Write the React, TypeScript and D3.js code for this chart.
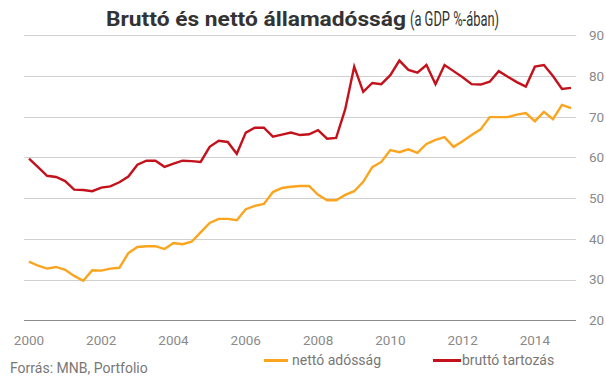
import React from "react";
import * as d3 from "d3";

const years: number[] = d3.range(2000, 2016);
const quarters: string[] = years.flatMap((y) => [1, 2, 3, 4].map((q) => `${y}Q${q}`)).slice(0, 61);

const bruttoTartozas: number[] = [
  59.7, 57.6, 55.5, 55.2, 54.2, 52.1, 52.0, 51.7, 52.6, 52.9,
  53.9, 55.3, 58.2, 59.2, 59.2, 57.7, 58.5, 59.2, 59.1, 58.9,
  62.6, 64.1, 63.8, 60.9, 66.1, 67.3, 67.3, 65.1, 65.6, 66.1,
  65.5, 65.7, 66.7, 64.6, 64.8, 71.8, 82.3, 76.1, 78.3, 78.0,
  80.2, 83.8, 81.5, 80.8, 82.7, 78.0, 82.7, 81.2, 79.7, 78.0,
  77.9, 78.6, 81.2, 79.8, 78.5, 77.4, 82.3, 82.7, 80.0, 76.8,
  77.1,
];

const nettoAdossag: number[] = [
  34.4, 33.4, 32.7, 33.1, 32.4, 30.9, 29.7, 32.3, 32.2, 32.7,
  32.9, 36.5, 38.0, 38.2, 38.2, 37.5, 39.0, 38.7, 39.3, 41.6,
  43.9, 44.9, 44.9, 44.6, 47.3, 48.1, 48.6, 51.5, 52.5, 52.8,
  53.0, 53.0, 50.8, 49.5, 49.5, 50.8, 51.7, 54.0, 57.6, 58.9,
  61.8, 61.3, 62.0, 61.1, 63.3, 64.3, 65.0, 62.6, 64.0, 65.5,
  66.9, 69.9, 69.9, 69.9, 70.5, 70.9, 68.9, 71.2, 69.4, 72.9,
  72.1,
];

const xTickLabels: string[] = ["2000", "2002", "2004", "2006", "2008", "2010", "2012", "2014"];
const yTicks: number[] = [20, 30, 40, 50, 60, 70, 80, 90];

const title = "Bruttó és nettó államadósság";
const titleSub = "(a GDP %-ában)";
const source = "Forrás: MNB, Portfolio";
const legendNet = "nettó adósság";
const legendGross = "bruttó tartozás";

const W = 606;
const H = 379;
const RED = "#c3121b";
const ORANGE = "#fba41d";
const FONT = "Roboto, 'Noto Sans', sans-serif";

export default function App() {
  const x = d3.scalePoint<string>().domain(quarters).range([29, 571]);
  const y = d3.scaleLinear().domain([20, 90]).range([320.3, 35.3]);
  const gridX0 = 24;
  const gridX1 = 576;

  const line = d3
    .line<number>()
    .x((_, i) => x(quarters[i]) as number)
    .y((d) => y(d));

  return (
    <svg
      width={W}
      height={H}
      style={{ position: "absolute", left: 0, top: 0, background: "#fff" }}
      fontFamily={FONT}
    >
      <text
        x={106}
        y={26}
        fontSize={20}
        fontWeight={700}
        fill="#333"
        textLength={300}
        lengthAdjust="spacingAndGlyphs"
      >
        {title}
      </text>
      <text
        x={410}
        y={26}
        fontSize={20}
        fill="#333"
        textLength={89}
        lengthAdjust="spacingAndGlyphs"
      >
        {titleSub}
      </text>

      {yTicks.map((t) => (
        <g key={t}>
          <line
            x1={gridX0}
            x2={gridX1}
            y1={Math.round(y(t)) + 0.5}
            y2={Math.round(y(t)) + 0.5}
            stroke={t === 20 ? "#8c8c8c" : "#d0d0d0"}
            strokeWidth={1}
          />
          <text x={589} y={y(t)} dy="0.36em" fontSize={13.5} fill="#8a8a8a">
            {t}
          </text>
        </g>
      ))}

      {xTickLabels.map((lbl) => (
        <text
          key={lbl}
          x={x(`${lbl}Q1`) as number}
          y={344.7}
          fontSize={13.5}
          fill="#8a8a8a"
          textAnchor="middle"
        >
          {lbl}
        </text>
      ))}

      <path d={line(nettoAdossag) || ""} fill="none" stroke={ORANGE} strokeWidth={2.4} strokeLinejoin="miter" />
      <path d={line(bruttoTartozas) || ""} fill="none" stroke={RED} strokeWidth={2.4} strokeLinejoin="miter" />

      <line x1={264} x2={288} y1={360.5} y2={360.5} stroke={ORANGE} strokeWidth={3} />
      <text x={292} y={365} fontSize={14} fill="#777">
        {legendNet}
      </text>
      <line x1={433} x2={461} y1={360.5} y2={360.5} stroke={RED} strokeWidth={3} />
      <text x={462} y={365} fontSize={14} fill="#777">
        {legendGross}
      </text>

      <text x={10} y={373} fontSize={14} fill="#777">
        {source}
      </text>
    </svg>
  );
}
